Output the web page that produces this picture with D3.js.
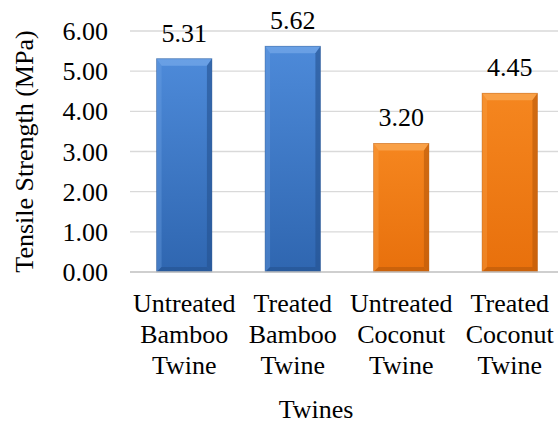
<!DOCTYPE html>
<html>
<head>
<meta charset="utf-8">
<script src="https://cdn.jsdelivr.net/npm/d3@7"></script>
<style>
  svg text { font-family: "Times New Roman" !important; }
</style>
</head>
<body style="margin:0">
<svg id="s" width="558" height="423" font-family="Times New Roman" style="font-family: 'Times New Roman'"></svg>
<script>
// Tensile strength of bamboo and coconut twines
const categories = [
  ["Untreated", "Bamboo", "Twine"],
  ["Treated", "Bamboo", "Twine"],
  ["Untreated", "Coconut", "Twine"],
  ["Treated", "Coconut", "Twine"]
];
const values = [5.31, 5.62, 3.20, 4.45];
const groups = ["bamboo", "bamboo", "coconut", "coconut"];
const yTicks = [0, 1, 2, 3, 4, 5, 6];
const yTitle = "Tensile Strength (MPa)";
const xTitle = "Twines";

const palette = {
  bamboo:  { top: "#4d8ad9", bottom: "#2f66b0", light: "#6fa3e6", dark: "#24528f" },
  coconut: { top: "#f5861f", bottom: "#e8700c", light: "#f9a54e", dark: "#b8580a" }
};

const svg = d3.select("#s");
const plot = { left: 130, right: 564, top: 31, bottom: 272 };

const x = d3.scaleBand()
  .domain(d3.range(values.length))
  .range([plot.left, plot.right])
  .paddingInner(0.49)
  .paddingOuter(0.245);

const y = d3.scaleLinear().domain([0, 6]).range([plot.bottom, plot.top]);

function serif(sel) {
  return sel.style("font-family", '"Times New Roman"').style("font-size", "26px");
}

// gradients
const defs = svg.append("defs");
Object.entries(palette).forEach(([k, c]) => {
  const g = defs.append("linearGradient").attr("id", "grad-" + k)
    .attr("x1", 0).attr("y1", 0).attr("x2", 0).attr("y2", 1);
  g.append("stop").attr("offset", "0%").attr("stop-color", c.top);
  g.append("stop").attr("offset", "100%").attr("stop-color", c.bottom);
});

// gridlines
svg.append("g")
  .selectAll("line")
  .data(yTicks.filter(d => d > 0))
  .join("line")
  .attr("x1", plot.left).attr("x2", 558)
  .attr("y1", d => y(d)).attr("y2", d => y(d))
  .attr("stroke", "#d9d9d9").attr("stroke-width", 1.3);

// bars with bevelled look
const bev = 5;
const bars = svg.append("g").selectAll("g").data(values).join("g");
bars.each(function(v, i) {
  const g = d3.select(this);
  const c = palette[groups[i]];
  const x0 = x(i), w = x.bandwidth(), y0 = y(v), y1 = y(0);
  g.append("rect").attr("x", x0).attr("y", y0).attr("width", w).attr("height", y1 - y0)
    .attr("fill", `url(#grad-${groups[i]})`);
  g.append("path")
    .attr("d", `M${x0},${y0}L${x0 + w},${y0}L${x0 + w - bev},${y0 + bev + 2}L${x0 + bev},${y0 + bev + 2}Z`)
    .attr("fill", c.light).attr("opacity", 0.85);
  g.append("path")
    .attr("d", `M${x0},${y0}L${x0 + bev},${y0 + bev + 2}L${x0 + bev},${y1 - bev}L${x0},${y1}Z`)
    .attr("fill", c.light).attr("opacity", 0.35);
  g.append("path")
    .attr("d", `M${x0 + w},${y0}L${x0 + w - bev},${y0 + bev + 2}L${x0 + w - bev},${y1 - bev}L${x0 + w},${y1}Z`)
    .attr("fill", c.dark).attr("opacity", 0.6);
  g.append("path")
    .attr("d", `M${x0},${y1}L${x0 + bev},${y1 - bev}L${x0 + w - bev},${y1 - bev}L${x0 + w},${y1}Z`)
    .attr("fill", c.dark).attr("opacity", 0.6);
  g.append("rect").attr("x", x0).attr("y", y0).attr("width", w).attr("height", y1 - y0)
    .attr("fill", "none").attr("stroke", c.dark).attr("stroke-opacity", 0.5).attr("stroke-width", 0.8);
});

// baseline
svg.append("line")
  .attr("x1", plot.left).attr("x2", 558)
  .attr("y1", y(0)).attr("y2", y(0))
  .attr("stroke", "#bfbfbf").attr("stroke-width", 1.5);

// y-axis labels
serif(svg.selectAll("text.ytick").data(yTicks).join("text").attr("class", "ytick"))
  .attr("x", plot.left - 22)
  .attr("y", d => y(d) + 9)
  .attr("text-anchor", "end")
  .text(d => d3.format(".2f")(d));

// value labels
serif(svg.selectAll("text.val").data(values).join("text").attr("class", "val"))
  .attr("x", (d, i) => x(i) + x.bandwidth() / 2)
  .attr("y", d => y(d) - 17)
  .attr("text-anchor", "middle")
  .text(d => d3.format(".2f")(d));

// category labels, one text per line
const catLines = categories.flatMap((lines, i) => lines.map((t, j) => ({ t, i, j })));
serif(svg.selectAll("text.cat").data(catLines).join("text").attr("class", "cat"))
  .attr("x", d => x(d.i) + x.bandwidth() / 2)
  .attr("y", d => 312 + d.j * 31)
  .attr("text-anchor", "middle")
  .text(d => d.t);

// axis titles
serif(svg.append("text"))
  .attr("transform", `translate(33,${(plot.top + plot.bottom) / 2}) rotate(-90)`)
  .attr("text-anchor", "middle")
  .text(yTitle);

serif(svg.append("text"))
  .attr("x", 316).attr("y", 418)
  .attr("text-anchor", "middle")
  .text(xTitle);
</script>
</body>
</html>
